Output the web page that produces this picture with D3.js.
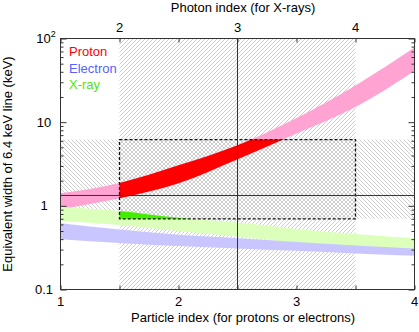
<!DOCTYPE html>
<meta charset="utf-8">
<title>Equivalent width vs index</title>
<style>
    body { margin: 0; background: #fff; }
    text { font-family: "Liberation Sans", Arial, sans-serif; font-size: 13px; fill: #000; }
    .axis path, .axis line { stroke: #333; }
</style>
<body>
<script src="https://cdn.jsdelivr.net/npm/d3@7"></script>
<script>

    // particle index samples and band edges (keV)
    var particleIdx = [1, 1.5, 2, 2.5, 3, 3.5, 4];
    var protonHi   = [1.41, 1.88, 3.05, 5.3, 11.2, 27.5, 78];
    var protonLo   = [0.91, 1.23, 1.86, 3.6, 7.3, 15.2, 41];
    var electronHi = [0.62, 0.52, 0.45, 0.41, 0.37, 0.335, 0.31];
    var electronLo = [0.40, 0.36, 0.33, 0.31, 0.29, 0.27, 0.253];
    var xrayHi     = [0.97, 0.87, 0.72, 0.63, 0.53, 0.46, 0.41];
    var xrayLo     = [0.66, 0.59, 0.50, 0.43, 0.36, 0.31, 0.277];

    // observed ranges
    var indexRange = [1.5, 3.5];
    var ewRange = [0.7, 6.2];
    var ewObs = 1.33;
    var indexObs = 2.5;

    var bottomTicks = [1, 2, 3, 4];
    var topTicks = [2, 3, 4];
    var yTicks = [0.1, 1, 10, 100];
    var yLabels = ["0.1", "1", "10", "10"];

    var legend = [
        {name: "Proton", color: "#ff0000"},
        {name: "Electron", color: "#5462ff"},
        {name: "X-ray", color: "#55e600"}
    ];

    var w = 419, h = 332,
        pL = 60.5, pR = 414.5, pT = 38.5, pB = 289.5;

    var x = d3.scaleLinear().domain([1, 4]).range([pL, pR]);
    var xTop = d3.scaleLinear().domain([1.5, 4.5]).range([pL, pR]);
    var y = d3.scaleLog().domain([0.1, 100]).range([pB, pT]);

    var svg = d3.select("body").append("svg")
        .attr("width", w)
        .attr("height", h);

    var defs = svg.append("defs");

    defs.append("pattern")
        .attr("id", "hatchA")
        .attr("patternUnits", "userSpaceOnUse")
        .attr("width", 4).attr("height", 4)
      .append("path")
        .attr("d", "M-1,1 l2,-2 M0,4 l4,-4 M3,5 l2,-2")
        .attr("stroke", "#bdbdbd")
        .attr("stroke-width", 0.75);

    defs.append("pattern")
        .attr("id", "hatchB")
        .attr("patternUnits", "userSpaceOnUse")
        .attr("width", 4).attr("height", 4)
      .append("path")
        .attr("d", "M-1,3 l2,2 M0,0 l4,4 M3,-1 l2,2")
        .attr("stroke", "#bdbdbd")
        .attr("stroke-width", 0.75);

    defs.append("clipPath").attr("id", "plotClip")
      .append("rect")
        .attr("x", pL).attr("y", pT)
        .attr("width", pR - pL).attr("height", pB - pT);

    defs.append("clipPath").attr("id", "boxClip")
      .append("rect")
        .attr("x", x(indexRange[0])).attr("y", y(ewRange[1]))
        .attr("width", x(indexRange[1]) - x(indexRange[0]))
        .attr("height", y(ewRange[0]) - y(ewRange[1]));

    var plot = svg.append("g").attr("clip-path", "url(#plotClip)");

    // hatched bands
    plot.append("rect")
        .attr("x", x(indexRange[0])).attr("y", pT)
        .attr("width", x(indexRange[1]) - x(indexRange[0]))
        .attr("height", pB - pT)
        .attr("fill", "url(#hatchA)");

    plot.append("rect")
        .attr("x", pL).attr("y", y(ewRange[1]))
        .attr("width", pR - pL)
        .attr("height", y(ewRange[0]) - y(ewRange[1]))
        .attr("fill", "url(#hatchB)");

    function band(hi, lo) {
        return d3.area()
            .x(function(d) { return x(d); })
            .y0(function(d, i) { return y(lo[i]); })
            .y1(function(d, i) { return y(hi[i]); })
            .curve(d3.curveMonotoneX)(particleIdx);
    }

    plot.append("path").attr("d", band(protonHi, protonLo)).attr("fill", "#ffa3d2");
    plot.append("path").attr("d", band(xrayHi, xrayLo)).attr("fill", "#dcffbc");
    plot.append("path").attr("d", band(electronHi, electronLo)).attr("fill", "#c9c6ff");

    var inBox = plot.append("g").attr("clip-path", "url(#boxClip)");
    inBox.append("path").attr("d", band(protonHi, protonLo)).attr("fill", "#ff0000");
    inBox.append("path").attr("d", band(xrayHi, xrayLo)).attr("fill", "#44ee00");

    // dashed box of allowed region
    plot.append("rect")
        .attr("x", x(indexRange[0])).attr("y", y(ewRange[1]))
        .attr("width", x(indexRange[1]) - x(indexRange[0]))
        .attr("height", y(ewRange[0]) - y(ewRange[1]))
        .attr("fill", "none")
        .attr("stroke", "#111")
        .attr("stroke-width", 1.3)
        .attr("stroke-dasharray", "3,2");

    // observed values
    plot.append("line")
        .attr("x1", pL).attr("x2", pR)
        .attr("y1", y(ewObs)).attr("y2", y(ewObs))
        .attr("stroke", "#333");
    plot.append("line")
        .attr("x1", x(indexObs)).attr("x2", x(indexObs))
        .attr("y1", pT).attr("y2", pB)
        .attr("stroke", "#333");

    // axes (ticks inward)
    svg.append("g").attr("class", "axis")
        .attr("transform", "translate(0," + pB + ")")
        .call(d3.axisBottom(x).tickValues(d3.range(1, 4.01, 0.5)).tickSize(-4).tickFormat(""))
        .call(function(g) { g.select(".domain").remove(); });

    svg.append("g").attr("class", "axis")
        .attr("transform", "translate(0," + pT + ")")
        .call(d3.axisTop(xTop).tickValues(d3.range(1.5, 4.51, 0.5)).tickSize(-4).tickFormat(""))
        .call(function(g) { g.select(".domain").remove(); });

    var yAll = y.ticks();

    svg.append("g").attr("class", "axis")
        .attr("transform", "translate(" + pL + ",0)")
        .call(d3.axisLeft(y).tickValues(yAll).tickSize(-3).tickFormat(""))
        .call(function(g) { g.select(".domain").remove(); })
        .selectAll(".tick line")
        .attr("x2", function(d) { return yTicks.indexOf(d) >= 0 ? 6 : 3; });

    svg.append("g").attr("class", "axis")
        .attr("transform", "translate(" + pR + ",0)")
        .call(d3.axisRight(y).tickValues(yAll).tickSize(-3).tickFormat(""))
        .call(function(g) { g.select(".domain").remove(); })
        .selectAll(".tick line")
        .attr("x2", function(d) { return yTicks.indexOf(d) >= 0 ? -6 : -3; });

    svg.append("rect")
        .attr("x", pL).attr("y", pT)
        .attr("width", pR - pL).attr("height", pB - pT)
        .attr("fill", "none")
        .attr("stroke", "#333");

    // tick labels
    svg.selectAll(".xlab").data(bottomTicks).enter().append("text")
        .attr("x", function(d) { return x(d); })
        .attr("y", 306)
        .attr("text-anchor", "middle")
        .text(function(d) { return d; });

    svg.selectAll(".tlab").data(topTicks).enter().append("text")
        .attr("x", function(d) { return xTop(d); })
        .attr("y", 32)
        .attr("text-anchor", "middle")
        .text(function(d) { return d; });

    var yl = svg.selectAll(".ylab").data(yTicks).enter().append("text")
        .attr("x", 44)
        .attr("y", function(d) { return y(d) + 4.5; })
        .attr("text-anchor", "middle");
    yl.append("tspan").text(function(d, i) { return yLabels[i]; });
    yl.filter(function(d) { return d === 100; })
        .attr("x", 46)
        .append("tspan")
        .attr("dy", -6)
        .style("font-size", "9px")
        .text("2");

    // titles
    svg.append("text")
        .attr("x", 243).attr("y", 322)
        .attr("text-anchor", "middle")
        .text("Particle index (for protons or electrons)");

    svg.append("text")
        .attr("x", 243).attr("y", 12)
        .attr("text-anchor", "middle")
        .text("Photon index (for X-rays)");

    svg.append("text")
        .attr("transform", "translate(12," + ((pT + pB) / 2) + ")rotate(-90)")
        .attr("text-anchor", "middle")
        .text("Equivalent width of 6.4 keV line (keV)");

    // legend
    svg.selectAll(".leg").data(legend).enter().append("text")
        .attr("x", 69)
        .attr("y", function(d, i) { return 56 + i * 16.5; })
        .style("fill", function(d) { return d.color; })
        .text(function(d) { return d.name; });

</script>
